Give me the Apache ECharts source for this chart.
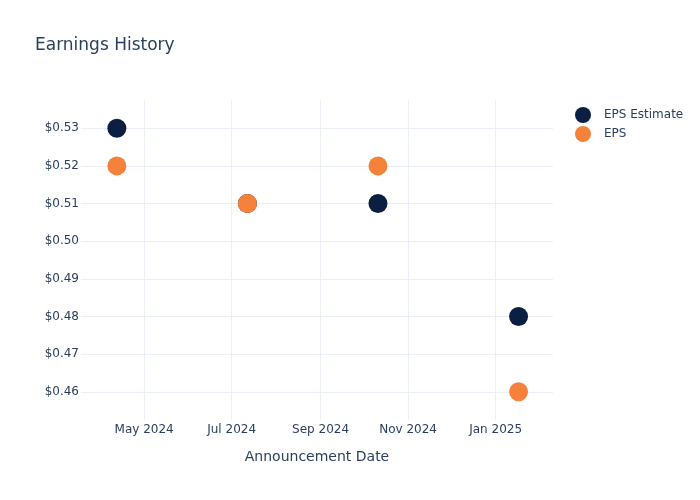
<!DOCTYPE html>
<html>
<head>
<meta charset="utf-8">
<script src="https://cdn.jsdelivr.net/npm/echarts@6/dist/echarts.min.js"></script>
<style>
  html, body { margin: 0; padding: 0; background: #fff; }
  #chart { width: 700px; height: 500px; }
</style>
</head>
<body>
<div id="chart"></div>
<script>
const announceDates = ["2024-04-12", "2024-07-12", "2024-10-11", "2025-01-17"];
const epsEstimate = [0.53, 0.51, 0.51, 0.48];
const epsActual = [0.52, 0.51, 0.52, 0.46];

const xTickDates = ["2024-05-01", "2024-07-01", "2024-09-01", "2024-11-01", "2025-01-01"];
const xTickLabels = ["May 2024", "Jul 2024", "Sep 2024", "Nov 2024", "Jan 2025"];
const yTicks = [0.46, 0.47, 0.48, 0.49, 0.50, 0.51, 0.52, 0.53];

const textColor = "#2a3f5f";
const gridColor = "#ebf0f8";
const fontFamily = "'DejaVu Sans', Verdana, sans-serif";

const toMs = (d) => new Date(d + "T00:00:00Z").getTime();
const xTickMs = xTickDates.map(toMs);

const chart = echarts.init(document.getElementById("chart"));

// x is a plain value axis of epoch ms so the ticks can sit on the month starts
chart.setOption({
  backgroundColor: "#fff",
  textStyle: { fontFamily },
  title: {
    text: "Earnings History",
    left: 30,
    top: 32,
    textStyle: { color: textColor, fontSize: 17, fontWeight: "normal", fontFamily },
  },
  legend: {
    orient: "vertical",
    left: 570,
    top: 102,
    icon: "circle",
    itemWidth: 16,
    itemHeight: 16,
    itemGap: 3,
    textStyle: { color: textColor, fontSize: 12, fontFamily, padding: [0, 0, 0, 8] },
    data: ["EPS Estimate", "EPS"],
  },
  grid: { left: 81, right: 147, top: 100, bottom: 80, containLabel: false },
  xAxis: {
    type: "value",
    min: toMs("2024-03-18"),
    max: toMs("2025-02-10"),
    name: "Announcement Date",
    nameLocation: "middle",
    nameGap: 30,
    nameTextStyle: { color: textColor, fontSize: 14, fontFamily },
    axisLine: { show: false },
    axisTick: { show: false, customValues: xTickMs },
    axisLabel: {
      customValues: xTickMs,
      color: textColor,
      fontSize: 12,
      margin: 4,
      fontFamily,
      formatter: (value) => {
        const i = xTickMs.indexOf(value);
        return i >= 0 ? xTickLabels[i] : "";
      },
    },
    splitLine: { show: true, lineStyle: { color: gridColor, width: 1 } },
  },
  yAxis: {
    type: "value",
    min: 0.4525,
    max: 0.5375,
    axisLine: { show: false },
    axisTick: { show: false, customValues: yTicks },
    axisLabel: {
      customValues: yTicks,
      color: textColor,
      fontSize: 12,
      margin: 2,
      fontFamily,
      formatter: (v) => "$" + v.toFixed(2),
    },
    splitLine: { show: true, lineStyle: { color: gridColor, width: 1 } },
  },
  series: [
    {
      name: "EPS Estimate",
      type: "scatter",
      symbolSize: 19,
      itemStyle: { color: "#0b1f42", opacity: 1 },
      data: announceDates.map((d, i) => [toMs(d), epsEstimate[i]]),
    },
    {
      name: "EPS",
      type: "scatter",
      symbolSize: 19,
      itemStyle: { color: "#f5813a", opacity: 1 },
      data: announceDates.map((d, i) => [toMs(d), epsActual[i]]),
    },
  ],
});
</script>
</body>
</html>
